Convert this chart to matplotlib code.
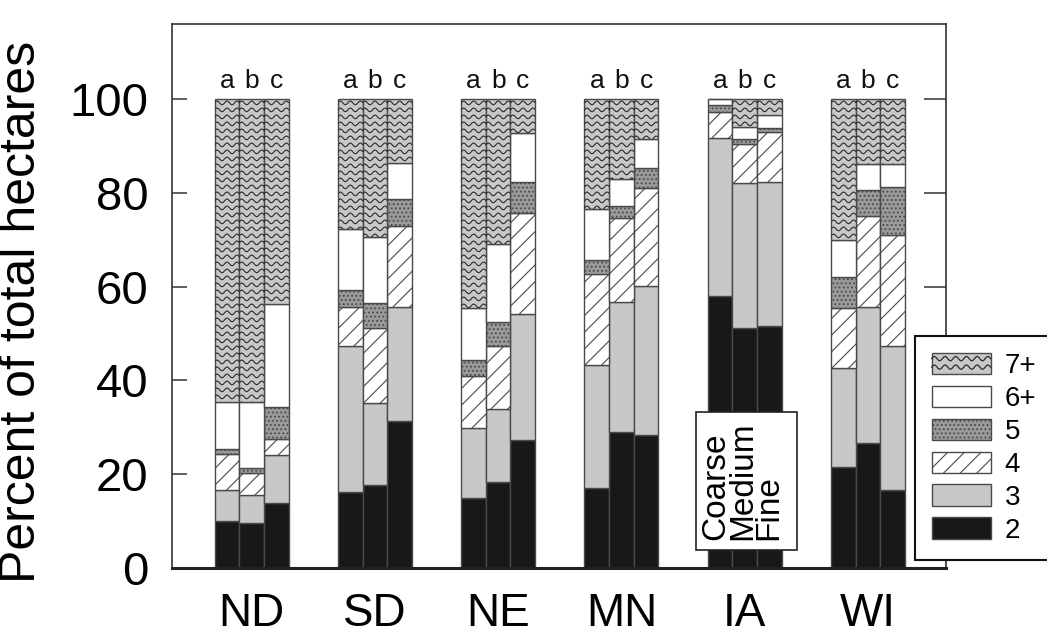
import numpy as np
import matplotlib
matplotlib.use('Agg')
import matplotlib.pyplot as plt
from matplotlib.patches import Rectangle, Patch
from matplotlib.lines import Line2D
from matplotlib.legend_handler import HandlerBase

plt.rcParams['font.family'] = ['Liberation Sans', 'DejaVu Sans']
plt.rcParams['hatch.linewidth'] = 0.8

# ---------------- data ----------------
states = ['ND', 'SD', 'NE', 'MN', 'IA', 'WI']
subs = ['a', 'b', 'c']
classes = ['2', '3', '4', '5', '6+', '7+']

# percent of total hectares per class, order: ND a,b,c, SD a,b,c, ... WI a,b,c
c2 = [10.0, 9.5, 13.8, 16.1, 17.8, 31.3, 14.9, 18.4, 27.4, 17.1, 28.9, 28.4, 57.9, 51.1, 51.5, 21.6, 26.6, 16.6]
c3 = [6.6, 6.1, 10.3, 31.3, 17.3, 24.4, 15.0, 15.5, 26.8, 26.2, 27.9, 31.8, 33.7, 31.1, 30.9, 21.1, 29.1, 30.8]
c4 = [7.8, 4.6, 3.5, 8.3, 16.0, 17.2, 11.1, 13.5, 21.4, 19.4, 17.8, 20.9, 5.7, 8.3, 10.6, 12.8, 19.4, 23.7]
c5 = [0.9, 1.2, 6.7, 3.6, 5.5, 5.8, 3.3, 5.0, 6.8, 3.0, 2.6, 4.1, 1.4, 0.9, 0.9, 6.5, 5.6, 10.2]
c6 = [10.2, 13.9, 22.1, 12.9, 14.0, 7.7, 11.2, 16.6, 10.4, 10.8, 5.7, 6.2, 1.3, 2.7, 2.7, 7.9, 5.4, 4.8]
c7 = [64.5, 64.7, 43.6, 27.8, 29.4, 13.6, 44.5, 31.0, 7.2, 23.5, 17.1, 8.6, 0.0, 5.9, 3.4, 30.1, 13.9, 13.9]
series = [c2, c3, c4, c5, c6, c7]

yticks = [0, 20, 40, 60, 80, 100]

# ---------------- styles ----------------
EDGE = '#4a4a4a'
styles = {
    '2': dict(fc='#181818', hatch=None),
    '3': dict(fc='#c8c8c8', hatch=None),
    '4': dict(fc='white', hatch='//'),
    '5': dict(fc='#9a9a9a', hatch='....'),
    '6+': dict(fc='white', hatch=None),
    '7+': dict(fc='#c8c8c8', hatch=None),
}

fig = plt.figure(figsize=(10.47, 6.4), dpi=100)
ax = fig.add_axes([172/1047, 72/640, 774/1047, 544/640])
ax.set_xlim(-0.645, 5.632)
ax.set_ylim(0, 116)

bw = 0.2
xpos = np.array([i + (j - 1) * bw for i in range(len(states)) for j in range(len(subs))])
sublabels = [s for _ in states for s in subs]

bottom = np.zeros(len(xpos))
bar_groups = {}
for cls, vals in zip(classes, series):
    st = styles[cls]
    bars = ax.bar(xpos, vals, width=bw, bottom=bottom, color=st['fc'],
                  edgecolor=EDGE, linewidth=1.0, hatch=st['hatch'], zorder=2)
    bar_groups[cls] = bars
    bottom = bottom + np.array(vals)

# wavy texture for 7+
p0 = ax.transData.transform((0, 0))
p1 = ax.transData.transform((1, 1))
sx, sy = p1[0] - p0[0], p1[1] - p0[1]
period = 10.0 / sx
amp = 1.8 / sy
step = 7.0 / sy
for p in bar_groups['7+']:
    x0, w, y0, h = p.get_x(), p.get_width(), p.get_y(), p.get_height()
    if h <= 0:
        continue
    xs = np.linspace(x0, x0 + w, 80)
    yc = y0 + h - step * 0.55
    while yc > y0 - amp:
        ys = yc + amp * np.sin(2 * np.pi * (xs - x0) / period)
        ln, = ax.plot(xs, ys, color='#2a2a2a', lw=0.8, zorder=3)
        ln.set_clip_path(p)
        yc -= step

# a b c labels
for x, s in zip(xpos, sublabels):
    ax.text(x, 102.3, s, ha='center', va='baseline', fontsize=19, color='#111')

# axes styling
for sp in ax.spines.values():
    sp.set_color('#333333')
    sp.set_linewidth(1.2)
ax.spines['bottom'].set_linewidth(2.2)
ax.spines['bottom'].set_color('#222222')

ax.set_yticks(yticks)
ax.set_yticklabels([str(v) for v in yticks])
ax.tick_params(axis='y', direction='in', length=11, width=1.1, labelsize=34,
               pad=17, left=True, right=True, color='#333333')
for t in ax.yaxis.get_major_ticks():
    t.tick2line.set_markersize(16)
ax.set_xticks(range(len(states)))
ax.set_xticklabels(states)
ax.tick_params(axis='x', length=0, labelsize=33, pad=17)

ax.set_ylabel('Percent of total hectares', fontsize=36)
ax.yaxis.set_label_coords(-0.164, 0.47)

# texture box
ax.add_patch(Rectangle((0.677, 0.033), 0.1305, 0.254, transform=ax.transAxes,
                       facecolor='white', edgecolor='#222222', lw=1.2, zorder=5))
ax.text(0.683, 0.052, 'Coarse\nMedium\nFine', transform=ax.transAxes, rotation=90,
        ha='left', va='bottom', fontsize=24, linespacing=0.8, zorder=6)


# legend
class WavyHandle:
    pass


class WavyHandler(HandlerBase):
    def create_artists(self, legend, orig_handle, xdescent, ydescent, width, height, fontsize, trans):
        x0, y0 = -xdescent, -ydescent
        r = Rectangle((x0, y0), width, height, facecolor='#c8c8c8', edgecolor=EDGE,
                      lw=1.0, transform=trans)
        arts = [r]
        xs = np.linspace(x0, x0 + width, 100)
        for frac in (0.32, 0.72):
            yc = y0 + height * frac
            ys = yc + height * 0.1 * np.sin(2 * np.pi * (xs - x0) / (width / 5.5))
            arts.append(Line2D(xs, ys, color='#2a2a2a', lw=0.9, transform=trans))
        return arts


handles = [WavyHandle()]
labels = ['7+']
for cls in ['6+', '5', '4', '3', '2']:
    st = styles[cls]
    handles.append(Patch(facecolor=st['fc'], edgecolor=EDGE, hatch=st['hatch'], lw=1.0))
    labels.append(cls)

leg = fig.legend(handles, labels, loc='upper left', bbox_to_anchor=(915/1047, 1 - 336/640),
                 borderaxespad=0, fontsize=20, handlelength=2.12, handleheight=0.8,
                 handletextpad=0.5, labelspacing=0.24, borderpad=0.6, fancybox=False,
                 framealpha=1, edgecolor='#111111', handler_map={WavyHandle: WavyHandler()})
leg.get_frame().set_linewidth(1.5)

fig.savefig('out.png', dpi=100)
